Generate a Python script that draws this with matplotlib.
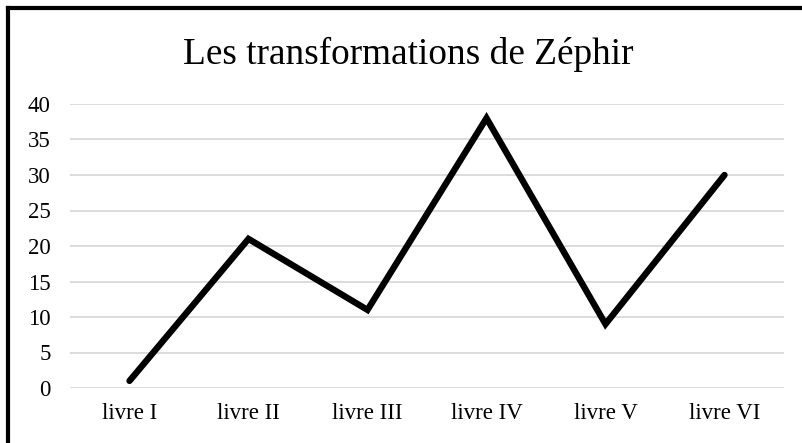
import matplotlib.pyplot as plt
from matplotlib.lines import Line2D

livres = ['livre I', 'livre II', 'livre III', 'livre IV', 'livre V', 'livre VI']
valeurs = [1, 21, 11, 38, 9, 30]
y_ticks = [0, 5, 10, 15, 20, 25, 30, 35, 40]

plt.rcParams['font.family'] = ['Liberation Serif', 'DejaVu Serif']

fig = plt.figure(figsize=(8.03, 4.43), dpi=100)
W, H = 803, 443
ax = fig.add_axes([70 / W, 1 - 388 / H, (784 - 70) / W, (388 - 104) / H])

x = range(len(livres))
ax.plot(x, valeurs, color='black', linewidth=4.6, solid_joinstyle='miter', solid_capstyle='round')

ax.set_xlim(-0.5, len(livres) - 0.5)
ax.set_ylim(0, 40)
ax.set_yticks(y_ticks)
ax.set_xticks(list(x))
ax.set_xticklabels(livres)
ax.grid(axis='y', color='#d9d9d9', linewidth=1.3)
ax.set_axisbelow(True)
for s in ax.spines.values():
    s.set_visible(False)
ax.tick_params(length=0, labelsize=16.5)
ax.tick_params(axis='y', pad=14)
ax.tick_params(axis='x', pad=11)

fig.text(408 / W, 1 - 54 / H, 'Les transformations de Zéphir', ha='center', va='center', fontsize=26.8)

# cadre (haut et gauche seulement visibles)
fig.add_artist(Line2D([8 / W, 1], [1 - 8 / H, 1 - 8 / H], color='black', linewidth=3, transform=fig.transFigure))
fig.add_artist(Line2D([8 / W, 8 / W], [0, 1 - 8 / H], color='black', linewidth=3, transform=fig.transFigure))

fig.savefig('out.png', dpi=100)
